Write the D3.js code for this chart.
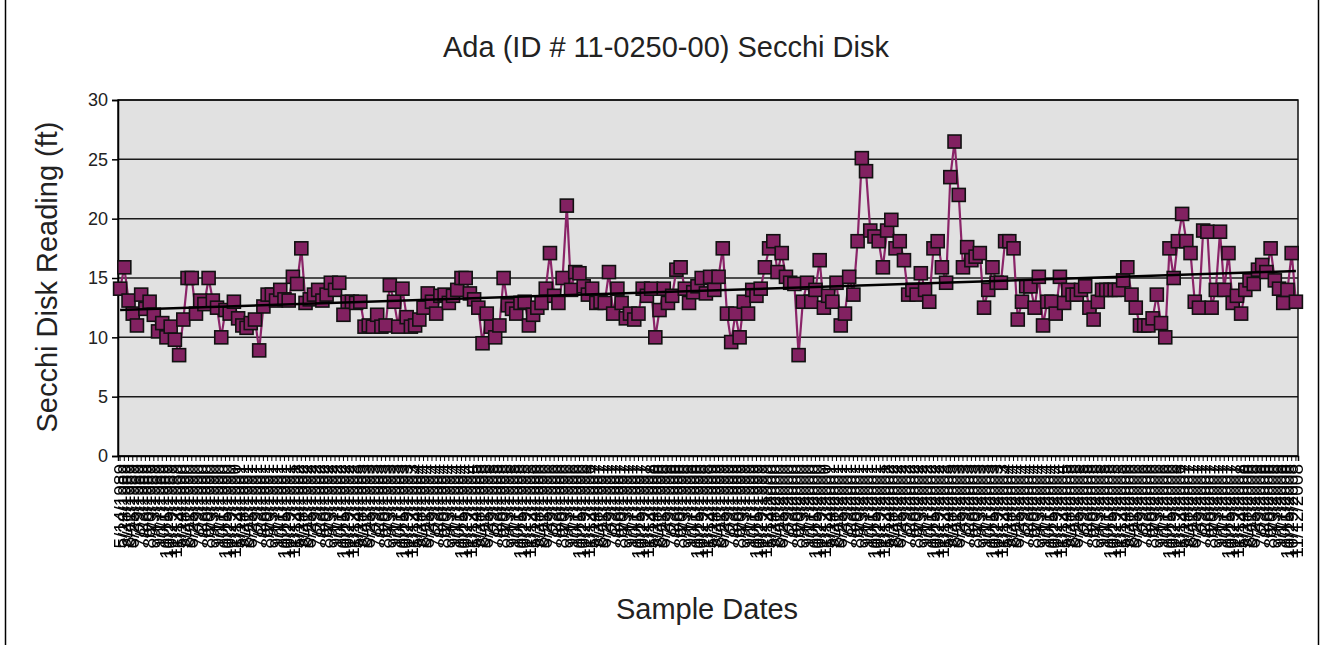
<!DOCTYPE html>
<html>
<head>
<meta charset="utf-8">
<script src="https://cdn.jsdelivr.net/npm/d3@7/dist/d3.min.js"></script>
<style>
    body { margin: 0; background: #fff; }
    svg { display: block; }
    text { font-family: "Liberation Sans", Arial, sans-serif; }
</style>
</head>
<body>
<div id="chart"></div>
<script>

// sampling years and dates within each season
var years = [1989, 1990, 1991, 1992, 1993, 1994, 1995, 1996, 1997, 1998,
             1999, 2000, 2001, 2002, 2003, 2004, 2005, 2006, 2007, 2008];
var sampleDays = ["5/14", "5/28", "6/11", "6/25", "7/9", "7/23", "8/6",
                  "8/20", "9/3", "9/17", "10/1", "10/15", "10/29", "11/12"];

// secchi disk readings (ft), in sample order
var secchiFt = [
    14.1, 15.9, 13.1, 12.0, 11.0, 13.6, 12.4, 13.0, 11.9, 10.5,
    11.2, 10.0, 10.9, 9.8, 8.5, 11.5, 15.0, 15.0, 12.0, 13.1,
    12.8, 15.0, 13.1, 12.5, 10.0, 12.3, 12.0, 13.0, 11.6, 11.0,
    10.8, 11.2, 11.5, 8.9, 12.6, 13.6, 13.6, 13.1, 14.0, 13.2,
    13.1, 15.1, 14.5, 17.5, 12.9, 13.2, 13.6, 14.0, 13.1, 13.6,
    14.6, 14.0, 14.6, 11.9, 13.0, 13.0, 12.9, 13.0, 10.9, 11.0,
    10.9, 11.9, 10.9, 11.0, 14.4, 13.0, 10.9, 14.1, 11.7, 10.9,
    11.0, 11.5, 12.5, 13.7, 13.0, 12.0, 13.5, 13.6, 12.9, 13.5,
    14.0, 15.0, 15.0, 13.7, 13.2, 12.5, 9.5, 12.0, 10.9, 10.0,
    11.0, 15.0, 12.7, 12.4, 12.0, 12.9, 13.0, 11.0, 11.9, 12.5,
    12.9, 14.1, 17.1, 13.5, 12.9, 15.0, 21.1, 14.0, 15.5, 15.4,
    14.3, 13.6, 14.1, 12.9, 13.0, 12.9, 15.5, 12.0, 14.1, 12.9,
    11.6, 12.0, 11.5, 12.0, 14.1, 13.5, 14.1, 10.0, 12.3, 14.1,
    12.9, 13.5, 15.7, 15.9, 14.1, 12.9, 13.8, 14.3, 15.0, 13.7,
    15.1, 14.0, 15.1, 17.5, 12.0, 9.6, 12.0, 10.0, 13.0, 12.0,
    14.0, 13.5, 14.1, 15.9, 17.5, 18.1, 15.5, 17.1, 15.1, 14.6,
    14.5, 8.5, 13.0, 14.6, 13.0, 14.0, 16.5, 12.5, 13.5, 13.0,
    14.6, 11.0, 12.0, 15.1, 13.6, 18.1, 25.1, 24.0, 19.0, 18.5,
    18.1, 15.9, 19.0, 19.9, 17.5, 18.1, 16.5, 13.6, 14.0, 13.6,
    15.4, 14.0, 13.0, 17.5, 18.1, 15.9, 14.6, 23.5, 26.5, 22.0,
    15.9, 17.6, 16.5, 16.8, 17.1, 12.5, 14.0, 15.9, 14.6, 14.6,
    18.1, 18.1, 17.5, 11.5, 13.0, 14.3, 14.3, 12.5, 15.1, 11.0,
    13.0, 13.0, 12.0, 15.1, 12.9, 14.0, 13.6, 13.6, 14.0, 14.3,
    12.5, 11.5, 13.0, 14.0, 14.0, 14.0, 14.0, 14.0, 14.8, 15.9,
    13.6, 12.5, 11.0, 11.0, 11.0, 11.6, 13.6, 11.2, 10.0, 17.5,
    15.0, 18.1, 20.4, 18.1, 17.1, 13.0, 12.5, 19.0, 18.9, 12.5,
    14.0, 18.9, 14.0, 17.1, 12.9, 13.5, 12.0, 14.0, 14.8, 14.5,
    15.7, 16.1, 15.5, 17.5, 14.8, 14.1, 12.9, 14.0, 17.1, 13.0
];

var yTicks = [0, 5, 10, 15, 20, 25, 30];

// build the date categories
var sampleDates = [];
years.forEach(function(y) {
    sampleDays.forEach(function(md) { sampleDates.push(md + "/" + y); });
});

var data = secchiFt.map(function(v, i) { return { date: sampleDates[i], value: v }; });

var width = 1325, height = 645;
var plot = { left: 118, top: 100, right: 1298, bottom: 456 };

var svg = d3.select("#chart").append("svg")
    .attr("width", width)
    .attr("height", height);

// outer frame edges
svg.append("line").attr("x1", 5.5).attr("x2", 5.5).attr("y1", 0).attr("y2", height)
    .attr("stroke", "#000").attr("stroke-width", 1.5);
svg.append("line").attr("x1", 1318.5).attr("x2", 1318.5).attr("y1", 0).attr("y2", height)
    .attr("stroke", "#000").attr("stroke-width", 1.5);

var x = d3.scaleBand()
    .domain(sampleDates)
    .range([plot.left, plot.right])
    .padding(0);

var y = d3.scaleLinear()
    .domain([0, 30])
    .range([plot.bottom, plot.top]);

var cx = function(d) { return x(d.date) + x.bandwidth() / 2; };

/*** PLOT AREA + GRID */
svg.append("rect")
    .attr("x", plot.left).attr("y", plot.top)
    .attr("width", plot.right - plot.left).attr("height", plot.bottom - plot.top)
    .attr("fill", "#e1e1e1");

svg.append("g")
    .selectAll("line")
    .data(yTicks)
    .enter()
    .append("line")
    .attr("x1", plot.left).attr("x2", plot.right)
    .attr("y1", function(d) { return y(d); })
    .attr("y2", function(d) { return y(d); })
    .attr("stroke", "#1a1a1a")
    .attr("stroke-width", 1.5);

svg.append("rect")
    .attr("x", plot.left).attr("y", plot.top)
    .attr("width", plot.right - plot.left).attr("height", plot.bottom - plot.top)
    .attr("fill", "none").attr("stroke", "#111").attr("stroke-width", 1.5);

/*** AXES */
var yAxis = svg.append("g")
    .attr("transform", "translate(" + plot.left + ",0)")
    .call(d3.axisLeft(y).tickValues(yTicks).tickSize(6).tickPadding(4));
yAxis.select(".domain").attr("stroke", "#000").attr("stroke-width", 1.5);
yAxis.selectAll(".tick line").attr("stroke", "#000").attr("stroke-width", 1.5);
yAxis.selectAll("text")
    .style("font-size", "18px")
    .attr("fill", "#222");

var xAxis = svg.append("g")
    .attr("transform", "translate(0," + plot.bottom + ")")
    .style("opacity", 0.995) // forces grayscale text antialiasing
    .call(d3.axisBottom(x).tickSize(5).tickPadding(2));
xAxis.select(".domain").attr("stroke", "#000").attr("stroke-width", 1.5);
xAxis.selectAll(".tick line").attr("stroke", "#000").attr("stroke-width", 1);
xAxis.selectAll("text")
    .attr("transform", "rotate(-90)")
    .attr("x", -8)
    .attr("y", 0)
    .attr("dy", "0.35em")
    .style("text-anchor", "end")
    .style("font-size", "19px")
    .attr("fill", "#000");

/*** SERIES LINE + MARKERS */
var line = d3.line()
    .x(cx)
    .y(function(d) { return y(d.value); });

svg.append("path")
    .datum(data)
    .attr("d", line)
    .attr("fill", "none")
    .attr("stroke", "#8a2468")
    .attr("stroke-width", 2.2);

var m = 13;
svg.append("g")
    .selectAll(".marker")
    .data(data)
    .enter()
    .append("rect")
    .attr("class", "marker")
    .attr("x", function(d) { return cx(d) - m / 2; })
    .attr("y", function(d) { return y(d.value) - m / 2; })
    .attr("width", m)
    .attr("height", m)
    .attr("fill", "#822161")
    .attr("stroke", "#111")
    .attr("stroke-width", 1.6);

/*** LINEAR TRENDLINE (least squares over sample order) */
var n = data.length;
var mx = d3.mean(data, function(d, i) { return i; });
var my = d3.mean(data, function(d) { return d.value; });
var sxy = d3.sum(data, function(d, i) { return (i - mx) * (d.value - my); });
var sxx = d3.sum(data, function(d, i) { return (i - mx) * (i - mx); });
var slope = sxy / sxx, icpt = my - slope * mx;

svg.append("line")
    .attr("x1", cx(data[0])).attr("x2", cx(data[n - 1]))
    .attr("y1", y(icpt)).attr("y2", y(icpt + slope * (n - 1)))
    .attr("stroke", "#000")
    .attr("stroke-width", 2.5);

/*** TITLES */
svg.append("text")
    .attr("x", 666).attr("y", 57)
    .style("text-anchor", "middle")
    .style("font-size", "29px")
    .attr("fill", "#222")
    .text("Ada (ID # 11-0250-00) Secchi Disk");

svg.append("text")
    .attr("transform", "translate(57,277) rotate(-90)")
    .style("text-anchor", "middle")
    .style("font-size", "29px")
    .attr("fill", "#222")
    .text("Secchi Disk Reading (ft)");

svg.append("text")
    .attr("x", 707).attr("y", 619)
    .style("text-anchor", "middle")
    .style("font-size", "29px")
    .attr("fill", "#222")
    .text("Sample Dates");

</script>
</body>
</html>
